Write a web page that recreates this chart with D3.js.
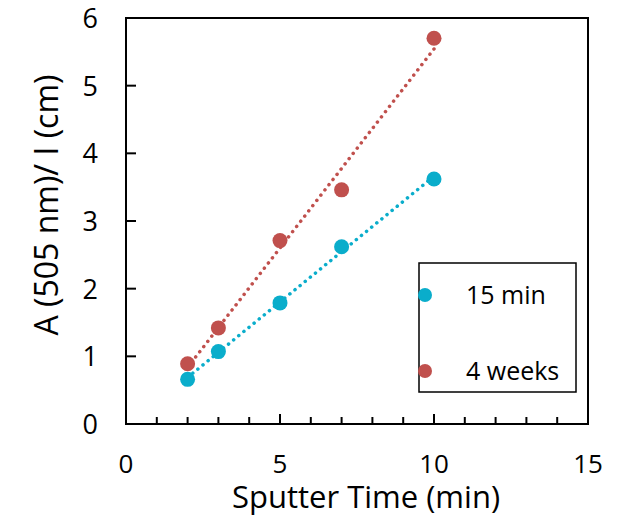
<!DOCTYPE html>
<html>
<head>
<meta charset="utf-8">
<script src="https://cdn.jsdelivr.net/npm/d3@7"></script>
<style>
  body { margin: 0; background: #fff; }
  text { font-family: "Open Sans", Lato, sans-serif; fill: #000; }
</style>
</head>
<body>
<div id="chart"></div>
<script>
// data
var sputterTimes = [2, 3, 5, 7, 10];
var series15min = [0.66, 1.07, 1.79, 2.62, 3.62];
var series4weeks = [0.89, 1.42, 2.71, 3.46, 5.70];
var seriesNames = ['15 min', '4 weeks'];
var seriesColors = ['#0AADCB', '#C0504D'];
var xTicks = [0, 5, 10, 15];
var yTicks = [0, 1, 2, 3, 4, 5, 6];

var width = 628, height = 521;
var margin = {left: 126, right: 40, top: 18, bottom: 97};

var svg = d3.select('#chart').append('svg')
  .attr('width', width)
  .attr('height', height);

var x = d3.scaleLinear().domain([0, 15]).range([margin.left, width - margin.right]);
var y = d3.scaleLinear().domain([0, 6]).range([height - margin.bottom, margin.top]);

// plot frame
svg.append('rect')
  .attr('x', x(0)).attr('y', y(6))
  .attr('width', x(15) - x(0)).attr('height', y(0) - y(6))
  .attr('fill', 'none').attr('stroke', '#000').attr('stroke-width', 2);

// x ticks (minor every 1, major every 5), pointing inward
svg.append('g').selectAll('line')
  .data(d3.range(1, 15))
  .enter().append('line')
  .attr('x1', function(d) { return x(d); })
  .attr('x2', function(d) { return x(d); })
  .attr('y1', y(0))
  .attr('y2', function(d) { return y(0) - (d % 5 === 0 ? 10 : 7); })
  .attr('stroke', '#000').attr('stroke-width', 2);

svg.append('g').selectAll('text')
  .data(xTicks)
  .enter().append('text')
  .attr('x', function(d) { return x(d); })
  .attr('y', 473)
  .attr('text-anchor', 'middle')
  .style('font-size', '26px')
  .text(function(d) { return d; });

// y ticks
svg.append('g').selectAll('line')
  .data(yTicks.slice(1, -1))
  .enter().append('line')
  .attr('x1', x(0)).attr('x2', x(0) + 10)
  .attr('y1', function(d) { return y(d); })
  .attr('y2', function(d) { return y(d); })
  .attr('stroke', '#000').attr('stroke-width', 2);

svg.append('g').selectAll('text')
  .data(yTicks)
  .enter().append('text')
  .attr('x', 98)
  .attr('y', function(d) { return y(d) + 10; })
  .attr('text-anchor', 'end')
  .style('font-size', '27px')
  .text(function(d) { return d; });

// axis titles
svg.append('text')
  .attr('x', 366).attr('y', 508)
  .attr('text-anchor', 'middle')
  .style('font-size', '31px')
  .text('Sputter Time (min)');

svg.append('text')
  .attr('transform', 'translate(58,' + 205 + ') rotate(-90)')
  .attr('text-anchor', 'middle')
  .style('font-size', '32px')
  .text('A (505 nm)/ I (cm)');

// linear fits, dotted
function fit(xs, ys) {
  var mx = d3.mean(xs), my = d3.mean(ys);
  var num = d3.sum(xs, function(v, i) { return (v - mx) * (ys[i] - my); });
  var den = d3.sum(xs, function(v) { return (v - mx) * (v - mx); });
  var b = num / den;
  return {slope: b, icpt: my - b * mx};
}

var allSeries = [series15min, series4weeks];
allSeries.forEach(function(vals, k) {
  var f = fit(sputterTimes, vals);
  var x0 = d3.min(sputterTimes), x1 = d3.max(sputterTimes);
  svg.append('line')
    .attr('x1', x(x0)).attr('y1', y(f.icpt + f.slope * x0))
    .attr('x2', x(x1)).attr('y2', y(f.icpt + f.slope * x1))
    .attr('stroke', seriesColors[k])
    .attr('stroke-width', 3.5)
    .attr('stroke-linecap', 'round')
    .attr('stroke-dasharray', '0.1 6.5');
});

allSeries.forEach(function(vals, k) {
  svg.append('g').selectAll('circle')
    .data(vals)
    .enter().append('circle')
    .attr('cx', function(d, i) { return x(sputterTimes[i]); })
    .attr('cy', function(d) { return y(d); })
    .attr('r', 7.5)
    .attr('fill', seriesColors[k]);
});

// legend
var legend = svg.append('g');
legend.append('rect')
  .attr('x', 419).attr('y', 263)
  .attr('width', 157).attr('height', 129)
  .attr('fill', '#fff').attr('stroke', '#000').attr('stroke-width', 1.5);

var legendY = [295, 371];
seriesNames.forEach(function(name, k) {
  legend.append('circle')
    .attr('cx', 425).attr('cy', legendY[k])
    .attr('r', 7).attr('fill', seriesColors[k]);
  legend.append('text')
    .attr('x', 466).attr('y', legendY[k] + 9)
    .style('font-size', '25px')
    .text(name);
});
</script>
</body>
</html>
